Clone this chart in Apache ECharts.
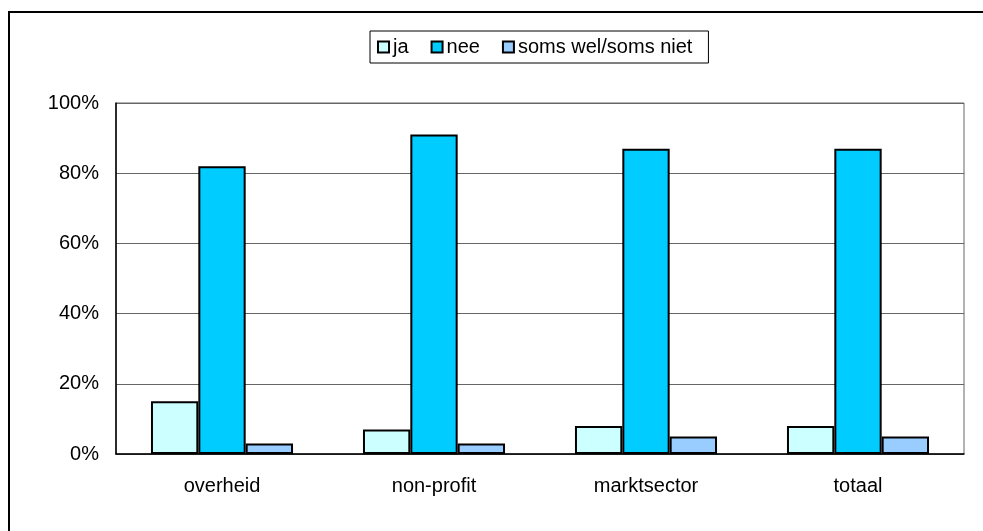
<!DOCTYPE html>
<html>
<head>
<meta charset="utf-8">
<script src="https://cdn.jsdelivr.net/npm/echarts@6/dist/echarts.min.js"></script>
<style>
html, body { margin: 0; padding: 0; background: #fff; }
#main { width: 983px; height: 531px; }
</style>
</head>
<body>
<div id="main"></div>
<script>
var categories = ['overheid', 'non-profit', 'marktsector', 'totaal'];
var ja = [15, 7, 8, 8];
var nee = [82, 91, 87, 87];
var somsWel = [3, 3, 5, 5];
var seriesNames = ['ja', 'nee', 'soms wel/soms niet'];
var colors = ['#CCFFFF', '#00CCFF', '#99CCFF'];

var myChart = echarts.init(document.getElementById('main'));

function bar(name, data, color) {
    return {
        name: name,
        type: 'bar',
        data: data,
        barGap: '0%',
        barCategoryGap: '33%',
        itemStyle: { color: color, borderColor: '#000', borderWidth: 2 }
    };
}

myChart.setOption({
    animation: false,
    textStyle: { fontFamily: 'Liberation Sans, Arial, sans-serif' },
    color: colors,
    graphic: [{
        type: 'rect',
        shape: { x: 9, y: 12, width: 1100, height: 700 },
        style: { fill: null, stroke: '#000', lineWidth: 2 },
        silent: true
    }],
    legend: {
        data: seriesNames,
        left: 370,
        top: 31,
        padding: [6, 16, 6, 7],
        itemGap: 22,
        itemWidth: 11,
        itemHeight: 11,
        icon: 'rect',
        borderColor: '#000',
        borderWidth: 1,
        itemStyle: { borderColor: '#000', borderWidth: 2 },
        textStyle: { fontSize: 20, lineHeight: 20, color: '#000', padding: [0, 0, 0, -1] }
    },
    grid: {
        left: 116,
        right: 19,
        top: 103,
        bottom: 77,
        show: true,
        borderColor: '#666',
        borderWidth: 1
    },
    xAxis: {
        type: 'category',
        data: categories,
        axisLine: { lineStyle: { color: '#000', width: 1.5 } },
        axisTick: { show: false },
        axisLabel: { fontSize: 20, color: '#000', margin: 22 }
    },
    yAxis: {
        type: 'value',
        min: 0,
        max: 100,
        interval: 20,
        axisLine: { show: true, lineStyle: { color: '#000', width: 1.5 } },
        axisTick: { show: false },
        axisLabel: { fontSize: 20, color: '#000', margin: 17, formatter: '{value}%' },
        splitLine: { lineStyle: { color: '#666', width: 1 } }
    },
    series: [
        bar(seriesNames[0], ja, colors[0]),
        bar(seriesNames[1], nee, colors[1]),
        bar(seriesNames[2], somsWel, colors[2])
    ]
});
</script>
</body>
</html>
